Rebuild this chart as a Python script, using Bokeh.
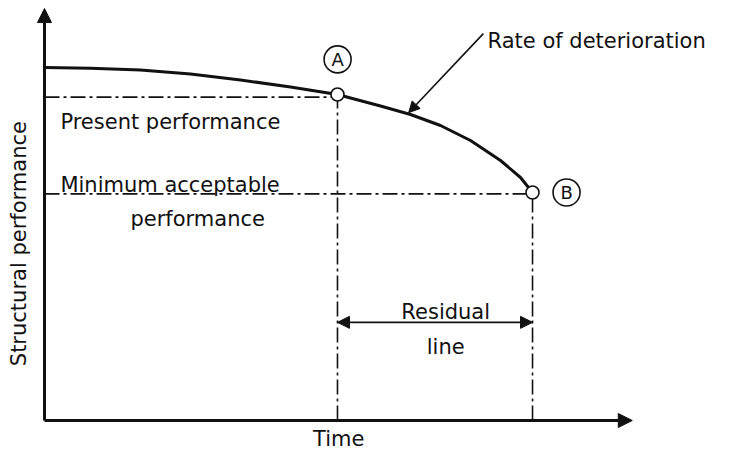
from bokeh.plotting import figure
from bokeh.models import Range1d, Arrow, NormalHead
from bokeh.core.properties import value
from bokeh.embed import file_html
from bokeh.resources import INLINE
import math

# ---- data (time in arbitrary units, performance in % of initial) ----
time = [0, 8.68, 18.11, 27.55, 36.98, 46.42, 55.28, 57.74, 63.40, 69.06, 74.72, 80.38, 86.04, 89.81, 92.08]
performance = [100.0, 99.77, 99.29, 98.16, 96.46, 94.48, 92.35, 91.36, 89.09, 86.69, 83.57, 79.32, 73.65, 68.84, 64.59]

t_A, p_A = 55.28, 92.35        # point A (present)
t_B, p_B = 92.08, 64.59        # point B (end of service life)
present_level = 91.6
minimum_level = 64.2
residual_level = 27.8

axis_time_end = 110.9
axis_perf_end = 116.7

# label positions (data units)
label_A_pos = (55.3, 102.3)
label_B_pos = (98.5, 64.6)
rate_text_pos = (83.6, 107.6)
rate_arrow = (82.8, 109.6, 68.7, 87.2)
present_text_pos = (3.0, 84.7)
minimum_text_pos = (3.0, 66.6)
minimum_text2_pos = (28.9, 57.2)
residual_text_pos = (75.7, 30.6)
line_text_pos = (75.7, 20.7)
time_text_pos = (55.5, -5.2)
ylabel_pos = (-4.8, 50.1)

FONT = value("DejaVu Sans")
INK = "#111111"
FS = "21px"

p = figure(width=730, height=452, x_range=Range1d(-8.302, 129.434), y_range=Range1d(-9.065, 118.98),
           min_border=0, toolbar_location=None, output_backend="svg",
           x_axis_location=None, y_axis_location=None)
p.outline_line_color = None
p.xgrid.visible = False
p.ygrid.visible = False

# axes with arrow heads
p.add_layout(Arrow(end=NormalHead(size=14, fill_color=INK, line_color=INK, line_width=1),
                   x_start=0, y_start=0, x_end=axis_time_end, y_end=0,
                   line_width=3, line_color=INK))
p.add_layout(Arrow(end=NormalHead(size=14, fill_color=INK, line_color=INK, line_width=1),
                   x_start=0, y_start=0, x_end=0, y_end=axis_perf_end,
                   line_width=3, line_color=INK))

dash = "15 4 3 4"
# reference dash-dot lines
p.line([0, t_A], [present_level, present_level], line_dash=dash, line_width=1.6, line_color=INK)
p.line([0, t_B], [minimum_level, minimum_level], line_dash=dash, line_width=1.6, line_color=INK)
p.line([t_A, t_A], [0, present_level], line_dash=dash, line_width=1.6, line_color=INK)
p.line([t_B, t_B], [0, minimum_level], line_dash=dash, line_width=1.6, line_color=INK)

# deterioration curve
p.line(time, performance, line_width=3, line_color=INK, line_join="round")

# points A and B
p.scatter([t_A, t_B], [p_A, p_B], size=13, marker="circle", fill_color="white",
          line_color=INK, line_width=1.6)

# circled labels
p.scatter([label_A_pos[0], label_B_pos[0]], [label_A_pos[1], label_B_pos[1]], size=27,
          marker="circle", fill_color="white", line_color=INK, line_width=1.6)
p.text([label_A_pos[0], label_B_pos[0]], [label_A_pos[1], label_B_pos[1]], text=["A", "B"],
       text_align="center", text_baseline="middle", text_font=FONT, text_font_size="18px",
       text_color=INK)

# rate of deterioration arrow
p.add_layout(Arrow(end=NormalHead(size=11, fill_color=INK, line_color=INK, line_width=1),
                   x_start=rate_arrow[0], y_start=rate_arrow[1],
                   x_end=rate_arrow[2], y_end=rate_arrow[3],
                   line_width=1.6, line_color=INK))

# residual life double arrow
p.add_layout(Arrow(start=NormalHead(size=12, fill_color=INK, line_color=INK, line_width=1),
                   end=NormalHead(size=12, fill_color=INK, line_color=INK, line_width=1),
                   x_start=t_A, y_start=residual_level, x_end=t_B, y_end=residual_level,
                   line_width=1.8, line_color=INK))

def label(pos, txt, align="left", size=FS, angle=0.0):
    p.text([pos[0]], [pos[1]], text=[txt], text_align=align, text_baseline="alphabetic",
           text_font=FONT, text_font_size=size, text_color=INK, angle=angle)

label(rate_text_pos, "Rate of deterioration")
label(present_text_pos, "Present performance")
label(minimum_text_pos, "Minimum acceptable")
label(minimum_text2_pos, "performance", align="center")
label(residual_text_pos, "Residual", align="center")
label(line_text_pos, "line", align="center")
label(time_text_pos, "Time", align="center")
label(ylabel_pos, "Structural performance", align="center", angle=math.pi / 2)

open("out.html", "w").write(file_html(p, INLINE))
